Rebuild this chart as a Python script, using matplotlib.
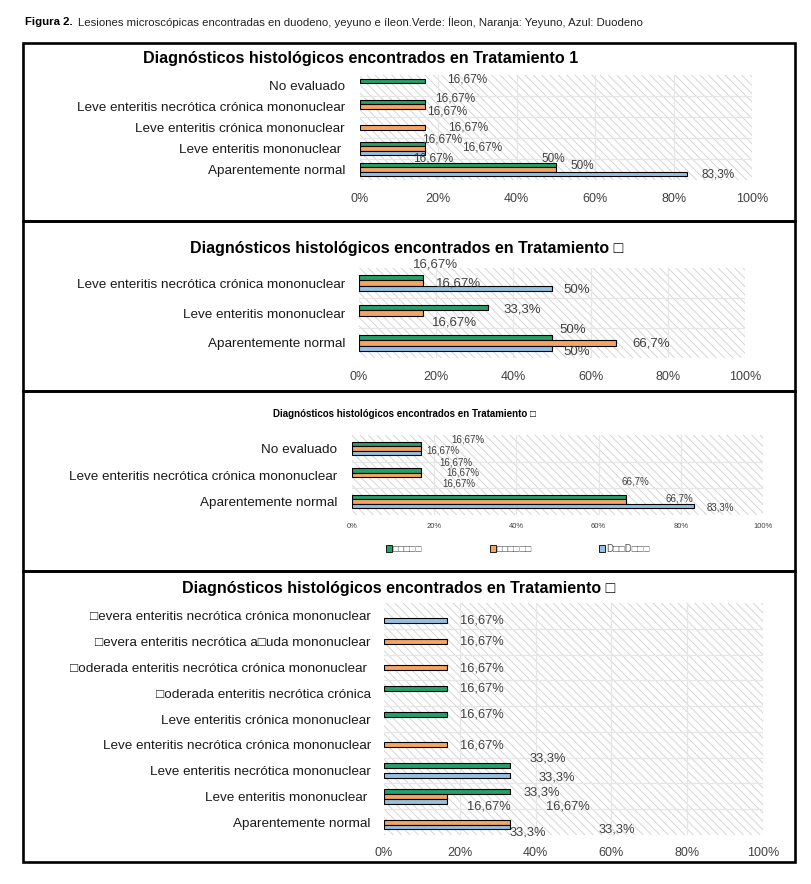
import matplotlib.pyplot as plt
from matplotlib import font_manager as fm
from matplotlib.patches import Rectangle, Patch
import numpy as np

W, H = 812, 884
BOX = '\u25a1'

colors = ['#25a069', '#f5a462', '#93c1e3']   # Íleon, Yeyuno, Duodeno
legend_labels = [BOX * 5, BOX * 6, 'D' + BOX * 2 + 'D' + BOX * 3]

# Tratamiento 1
cats1 = ['No evaluado', 'Leve enteritis necrótica crónica mononuclear',
         'Leve enteritis crónica mononuclear', 'Leve enteritis mononuclear ',
         'Aparentemente normal']
ileon1 = [16.67, 16.67, 0, 16.67, 50]
yeyuno1 = [0, 16.67, 16.67, 16.67, 50]
duodeno1 = [0, 0, 0, 16.67, 83.3]

# Tratamiento 2
cats2 = ['Leve enteritis necrótica crónica mononuclear', 'Leve enteritis mononuclear',
         'Aparentemente normal']
ileon2 = [16.67, 33.3, 50]
yeyuno2 = [16.67, 16.67, 66.7]
duodeno2 = [50, 0, 50]

# Tratamiento 3
cats3 = ['No evaluado', 'Leve enteritis necrótica crónica mononuclear', 'Aparentemente normal']
ileon3 = [16.67, 16.67, 66.7]
yeyuno3 = [16.67, 16.67, 66.7]
duodeno3 = [16.67, 0, 83.3]

# Tratamiento 4
cats4 = [BOX + 'evera enteritis necrótica crónica mononuclear',
         BOX + 'evera enteritis necrótica a' + BOX + 'uda mononuclear',
         BOX + 'oderada enteritis necrótica crónica mononuclear ',
         BOX + 'oderada enteritis necrótica crónica',
         'Leve enteritis crónica mononuclear',
         'Leve enteritis necrótica crónica mononuclear',
         'Leve enteritis necrótica mononuclear',
         'Leve enteritis mononuclear ',
         'Aparentemente normal']
ileon4 = [0, 0, 0, 16.67, 16.67, 0, 33.3, 33.3, 0]
yeyuno4 = [0, 16.67, 16.67, 0, 0, 16.67, 0, 16.67, 33.3]
duodeno4 = [16.67, 0, 0, 0, 0, 0, 33.3, 16.67, 33.3]

title = 'Diagnósticos histológicos encontrados en Tratamiento '

FONT = ['Liberation Sans', 'DejaVu Sans']
plt.rcParams['font.family'] = FONT
plt.rcParams['hatch.linewidth'] = 0.6

names = {f.name for f in fm.fontManager.ttflist}
narrow = 'Liberation Sans Narrow' in names
CAP_FONT = ['Liberation Sans Narrow', 'DejaVu Sans'] if narrow else FONT
cap_size = 9.75 if narrow else 8.22

fig = plt.figure(figsize=(W / 100, H / 100), dpi=100)
fig.patch.set_facecolor('white')


def rect(x0, y0, x1, y1):
    return [x0 / W, 1 - y1 / H, (x1 - x0) / W, (y1 - y0) / H]


def fmt(v):
    return f'{v:g}'.replace('.', ',') + '%'


def panel(box, cats, vals, offsets, bar_h, lab_size, tick_size, ypad, xpad):
    ax = fig.add_axes(rect(*box))
    n = len(cats)
    pos = np.arange(n)
    ax.add_patch(Rectangle((0, 0), 1, 1, transform=ax.transAxes, facecolor='white',
                           edgecolor='#cfcfcf', hatch='\\\\\\\\', lw=0, zorder=0))
    for t in range(20, 101, 20):
        ax.axvline(t, color='#e6e6e6', lw=0.9, zorder=1)
    for b in np.arange(n - 1) + 0.5:
        ax.axhline(b, color='#e6e6e6', lw=0.9, zorder=1)
    for s, v in enumerate(vals):
        v = np.array(v, float)
        ys = pos + (s - 1) * bar_h
        m = v > 0
        ax.barh(ys[m], v[m], height=bar_h, color=colors[s], edgecolor='black',
                lw=0.8, zorder=3)
        for i in np.where(m)[0]:
            dx, dy = offsets.get((i, s), (35, 0))
            ax.annotate(fmt(v[i]), xy=(v[i], ys[i]), xytext=(dx, dy),
                        textcoords='offset pixels', ha='center', va='center',
                        fontsize=lab_size, color='#404040', zorder=4,
                        annotation_clip=False)
    ax.set_xlim(0, 100)
    ax.set_ylim(n - 0.5, -0.5)
    ax.set_xticks(range(0, 101, 20), [f'{t}%' for t in range(0, 101, 20)])
    ax.set_yticks(pos, cats)
    ax.tick_params(axis='x', length=0, pad=xpad, labelsize=tick_size, labelcolor='#404040')
    ax.tick_params(axis='y', length=0, pad=ypad, labelsize=9.7, labelcolor='#1a1a1a')
    for sp in ax.spines.values():
        sp.set_visible(False)
    return ax


# caption
fig.text(25 / W, 1 - 22 / H, 'Figura 2.', family=CAP_FONT, fontweight='bold',
         fontsize=cap_size, va='center', ha='left')
fig.text(78 / W, 1 - 22 / H,
         'Lesiones microscópicas encontradas en duodeno, yeyuno e íleon.Verde: Íleon, '
         'Naranja: Yeyuno, Azul: Duodeno',
         family=CAP_FONT, fontsize=cap_size, va='center', ha='left', color='#222222')

# panel frames
for y0, y1 in [(43, 221), (221, 391), (391, 571), (571, 862)]:
    fig.add_artist(Rectangle((23 / W, 1 - y1 / H), 772 / W, (y1 - y0) / H,
                             transform=fig.transFigure, fill=False,
                             edgecolor='black', lw=1.9))

off1 = {(0, 0): (42, 2), (1, 0): (30, 4), (1, 1): (21.5, -5.5), (2, 1): (43, 0),
        (3, 0): (17, 5), (3, 1): (57, 1.5), (3, 2): (8, -6),
        (4, 0): (-3, 6), (4, 1): (26, 3.5), (4, 2): (31.5, -1)}
panel((360, 75, 752, 180), cats1, [ileon1, yeyuno1, duodeno1], off1,
      0.2, 8.5, 9, 10.8, 9)
fig.text(143 / W, 1 - 59 / H, title + '1', fontsize=11.65, fontweight='bold',
         va='center', ha='left')

off2 = {(0, 0): (12, 13.5), (0, 1): (35, 0), (0, 2): (25, -2),
        (1, 0): (35, -1.5), (1, 1): (31, -9.5),
        (2, 0): (21, 7.5), (2, 1): (35, 0), (2, 2): (25, -4)}
panel((359, 268, 745, 358), cats2, [ileon2, yeyuno2, duodeno2], off2,
      0.18, 9.5, 9, 10, 9)
fig.text(190 / W, 1 - 248 / H, title + BOX, fontsize=11.5, fontweight='bold',
         va='center', ha='left')

off3 = {(0, 0): (47, 4), (0, 1): (22, -2.5), (0, 2): (38.5, -30.5),
        (1, 0): (35, 8), (1, 1): (42, 3),
        (2, 0): (9, 16), (2, 1): (53, 3), (2, 2): (26, -1.5)}
panel((352, 435, 763, 515), cats3, [ileon3, yeyuno3, duodeno3], off3,
      0.17, 7, 5.5, 10.8, 5.5)
fig.text(273 / W, 1 - 414 / H, title + BOX, fontsize=7, fontweight='bold',
         va='center', ha='left')
handles = [Patch(facecolor=c, edgecolor='black', lw=0.6) for c in colors]
fig.legend(handles, legend_labels, ncol=3, loc='center',
           bbox_to_anchor=(518 / W, 1 - 549 / H), frameon=False, fontsize=7,
           handlelength=0.6, handleheight=0.6, handletextpad=0.15,
           columnspacing=6.9, labelcolor='#555555')

off4 = {(0, 2): (35, 0), (1, 1): (35, 0), (2, 1): (35, -1.5), (3, 0): (35, 0),
        (4, 0): (35, 0), (5, 1): (35, -1), (6, 0): (38, 7), (6, 2): (47, -2),
        (7, 0): (32, -1), (7, 1): (42, -10.5), (7, 2): (121, -5),
        (8, 1): (18, -10), (8, 2): (107, -2)}
panel((384, 603, 763, 835), cats4, [ileon4, yeyuno4, duodeno4], off4,
      0.19, 9.3, 9, 9.5, 9)
fig.text(182 / W, 1 - 588 / H, title + BOX, fontsize=11.5, fontweight='bold',
         va='center', ha='left')

fig.savefig('out.png', dpi=100)
